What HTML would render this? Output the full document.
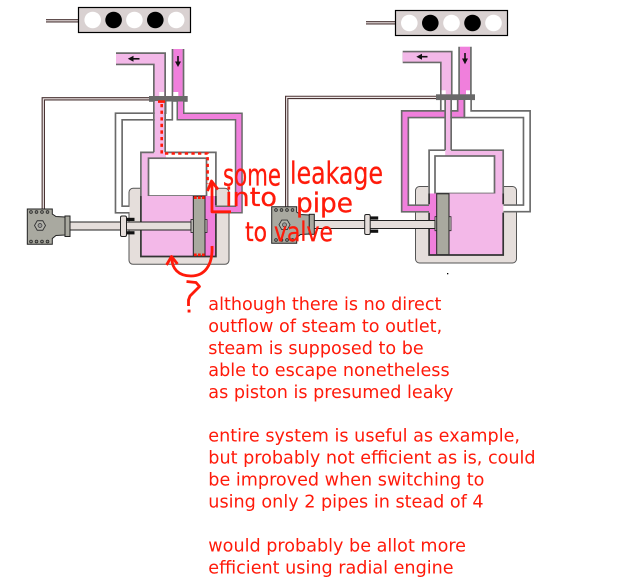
<!DOCTYPE html>
<html><head><meta charset="utf-8">
<style>
html,body{margin:0;padding:0;background:#fff;}
svg{display:block;}
</style></head>
<body>
<svg width="622" height="581" viewBox="0 0 622 581" xmlns="http://www.w3.org/2000/svg">
<rect width="622" height="581" fill="#fff"/>

<!-- ================= LEFT ENGINE ================= -->
<path d="M46,20.8 H78.5" stroke="#4a3434" stroke-width="3.4" fill="none"/>
<path d="M46,20.8 H78.5" stroke="#efe8e8" stroke-width="1.2" fill="none"/>
<rect x="78.5" y="7.5" width="112" height="25" fill="#d9d1d1" stroke="#000" stroke-width="1.2"/>
<circle cx="92.7" cy="20" r="8.3" fill="#fff"/>
<circle cx="113.6" cy="20" r="8.3" fill="#000"/>
<circle cx="134.4" cy="20" r="8.3" fill="#fff"/>
<circle cx="155.3" cy="20" r="8.3" fill="#000"/>
<circle cx="176.2" cy="20" r="8.3" fill="#fff"/>

<path d="M116,58.8 H159.5 V96" fill="none" stroke="#6a6a6a" stroke-width="13" stroke-linejoin="miter"/>
<path d="M116,58.8 H159.5 V96" fill="none" stroke="#f3b8e8" stroke-width="9.6" stroke-linejoin="miter"/>
<rect x="173.3" y="49" width="9.4" height="47" fill="#f07fdc"/>
<path d="M172.5,49 V96 M183.5,49 V96" stroke="#6a6a6a" stroke-width="1.7"/>
<rect x="159.3" y="92" width="4.7" height="4" fill="#fff"/>
<rect x="173.3" y="92" width="5" height="4" fill="#fff"/>
<path d="M133,58.8 H139.5" stroke="#111" stroke-width="1.6"/>
<polygon points="127.8,58.8 133.5,55.8 133.5,61.8" fill="#111"/>
<path d="M178,56 V62" stroke="#111" stroke-width="1.6"/>
<polygon points="175,61.5 181,61.5 178,67" fill="#111"/>

<path d="M150,98.8 H43.3 V209" stroke="#4a3434" stroke-width="3.4" fill="none"/>
<path d="M150,98.8 H43.3 V209" stroke="#efe8e8" stroke-width="1.2" fill="none"/>

<rect x="149" y="96" width="38.7" height="5.8" fill="#696969"/>

<rect x="129" y="188.3" width="100" height="76" rx="4" fill="#e5dedb" stroke="#555" stroke-width="1"/>

<path d="M169,101.5 V116.5 H118.8 V209.5 H129.5" fill="none" stroke="#6a6a6a" stroke-width="8.3" stroke-linejoin="miter"/>
<path d="M169,101.5 V116.5 H118.8 V209.5 H129.5" fill="none" stroke="#fff" stroke-width="5" stroke-linejoin="miter"/>
<path d="M180.5,101.5 V116.5 H238.8 V209.5 H215" fill="none" stroke="#6a6a6a" stroke-width="8" stroke-linejoin="miter"/>
<path d="M180.5,101.5 V116.5 H238.8 V209.5 H215" fill="none" stroke="#f07fdc" stroke-width="5" stroke-linejoin="miter"/>

<rect x="141" y="151.5" width="75" height="45" fill="#fff"/>
<polygon points="141.8,153 166,153 166,158.5 148.5,158.5 148.5,196 141.8,196" fill="#f3b8e8"/>
<rect x="154.7" y="101" width="9.6" height="52.5" fill="#f3b8e8"/>
<path d="M153.85,101 V152.35 M165.15,101 V152.35" stroke="#6a6a6a" stroke-width="1.7"/>
<path d="M140.9,196 V152.35 H153.85 M165.15,152.35 H215.9 V196" fill="none" stroke="#6a6a6a" stroke-width="1.7"/>
<rect x="148.5" y="158.2" width="58" height="37.8" fill="#fff" stroke="#6a6a6a" stroke-width="1.7"/>

<rect x="141.8" y="196" width="52" height="60" fill="#f3b8e8"/>
<rect x="204.5" y="196" width="10.8" height="60" fill="#f07fdc"/>
<rect x="191" y="219.5" width="16" height="13" fill="#e0dad6" stroke="#222" stroke-width="0.8"/>
<rect x="193.3" y="196.3" width="11.7" height="59.6" fill="#a9a99f" stroke="#222" stroke-width="1"/>
<path d="M140.9,196 V256.5 H215.9 V213.6 M215.9,205.4 V196" fill="none" stroke="#333" stroke-width="1.7"/>

<rect x="69.5" y="222" width="121.5" height="8" fill="#e5dedb" stroke="#222" stroke-width="1"/>
<rect x="120.5" y="216" width="6" height="20.5" rx="1.5" fill="#e5dedb" stroke="#222" stroke-width="1"/>
<rect x="126.5" y="217.8" width="8" height="3.2" fill="#111"/>
<rect x="126.5" y="231.2" width="8" height="3.2" fill="#111"/>

<polygon points="27.3,209 52.3,209 52.3,214 56,216.5 65,217 65,235 56,235.5 52.3,238.5 52.3,244.3 27.3,244.3" fill="#a9a9a0" stroke="#222" stroke-width="1"/>
<rect x="65" y="216" width="5" height="20.5" fill="#a9a9a0" stroke="#222" stroke-width="1"/>
<g fill="#8a8a84" stroke="#222" stroke-width="0.7">
<circle cx="31" cy="212" r="1.4"/><circle cx="36.5" cy="212" r="1.4"/><circle cx="42" cy="212" r="1.4"/><circle cx="47.5" cy="212" r="1.4"/>
<circle cx="31" cy="241.5" r="1.4"/><circle cx="36.5" cy="241.5" r="1.4"/><circle cx="42" cy="241.5" r="1.4"/><circle cx="47.5" cy="241.5" r="1.4"/>
</g>
<polygon points="45.5,225.5 42.75,230.26 37.25,230.26 34.5,225.5 37.25,220.74 42.75,220.74" fill="#b4b4ac" stroke="#333" stroke-width="0.9"/>
<circle cx="40" cy="225.5" r="2" fill="#999" stroke="#333" stroke-width="0.7"/>

<!-- ================= RIGHT ENGINE ================= -->
<path d="M366,22.8 H395.5" stroke="#4a3434" stroke-width="3.4" fill="none"/>
<path d="M366,22.8 H395.5" stroke="#efe8e8" stroke-width="1.2" fill="none"/>
<rect x="395.5" y="10.5" width="112" height="25" fill="#d9d1d1" stroke="#000" stroke-width="1.2"/>
<circle cx="409.3" cy="23" r="8.3" fill="#fff"/>
<circle cx="430.3" cy="23" r="8.3" fill="#000"/>
<circle cx="451.5" cy="23" r="8.3" fill="#fff"/>
<circle cx="472.5" cy="23" r="8.3" fill="#000"/>
<circle cx="493.5" cy="23" r="8.3" fill="#fff"/>

<path d="M402.7,57 H446.3 V94.5" fill="none" stroke="#6a6a6a" stroke-width="12.6" stroke-linejoin="miter"/>
<path d="M402.7,57 H446.3 V94.5" fill="none" stroke="#f3b8e8" stroke-width="9.3" stroke-linejoin="miter"/>
<rect x="460" y="46.7" width="10" height="47.8" fill="#f07fdc"/>
<path d="M459.1,46.7 V94.5 M470.9,46.7 V94.5" stroke="#6a6a6a" stroke-width="1.7"/>
<rect x="441.7" y="90.3" width="4" height="4" fill="#fff"/>
<rect x="466" y="90.3" width="4" height="4" fill="#fff"/>
<path d="M421.5,56.7 H427.5" stroke="#111" stroke-width="1.6"/>
<polygon points="416.3,56.7 422,53.7 422,59.7" fill="#111"/>
<path d="M465,53 V59" stroke="#111" stroke-width="1.6"/>
<polygon points="462,58.5 468,58.5 465,64.3" fill="#111"/>

<path d="M437,97.4 H286.7 V207" stroke="#4a3434" stroke-width="3.4" fill="none"/>
<path d="M437,97.4 H286.7 V207" stroke="#efe8e8" stroke-width="1.2" fill="none"/>

<rect x="436" y="94.3" width="39" height="5.8" fill="#696969"/>

<rect x="415.5" y="186.5" width="101" height="76.5" rx="4" fill="#e5dedb" stroke="#555" stroke-width="1"/>

<path d="M461,100 V114.2 H405 V208.5 H429" fill="none" stroke="#6a6a6a" stroke-width="8.3" stroke-linejoin="miter"/>
<path d="M461,100 V114.2 H405 V208.5 H429" fill="none" stroke="#f07fdc" stroke-width="5" stroke-linejoin="miter"/>
<path d="M467.8,100 V114.2 H526.8 V208.4 H503.5" fill="none" stroke="#6a6a6a" stroke-width="8.3" stroke-linejoin="miter"/>
<path d="M467.8,100 V114.2 H526.8 V208.4 H503.5" fill="none" stroke="#fff" stroke-width="5" stroke-linejoin="miter"/>
<path d="M440.8,100 V110" stroke="#6a6a6a" stroke-width="1.7"/>

<rect x="428.3" y="150" width="75" height="44" fill="#fff"/>
<polygon points="445.2,151 502.4,151 502.4,194 494.5,194 494.5,156 445.2,156" fill="#f3b8e8"/>
<rect x="446" y="100" width="4.3" height="51.5" fill="#f3b8e8"/>
<path d="M445.15,100 V150.2 M451.15,100 V150.2" stroke="#6a6a6a" stroke-width="1.7"/>
<path d="M429.1,193.5 V150.2 H445.15 M451.15,150.2 H503.2 V193.5" fill="none" stroke="#6a6a6a" stroke-width="1.7"/>
<rect x="435" y="156" width="59.5" height="37.5" fill="#fff" stroke="#6a6a6a" stroke-width="1.7"/>

<rect x="429" y="193.5" width="9" height="61" fill="#f07fdc"/>
<rect x="448.5" y="193.5" width="54.5" height="61" fill="#f3b8e8"/>
<rect x="435" y="216.7" width="16" height="14" fill="#e0dad6" stroke="#222" stroke-width="0.8"/>
<rect x="436.7" y="193.8" width="12.3" height="61" fill="#a9a99f" stroke="#222" stroke-width="1"/>
<path d="M429.1,193.5 V204.3 M429.1,212.7 V255 H503.2 V212.6 M503.2,204.2 V193.5" fill="none" stroke="#333" stroke-width="1.7"/>

<rect x="314" y="220.5" width="121" height="8" fill="#e5dedb" stroke="#222" stroke-width="1"/>
<rect x="364.7" y="214.5" width="5.5" height="20" rx="1.5" fill="#e5dedb" stroke="#222" stroke-width="1"/>
<rect x="370.2" y="216.4" width="8" height="3.2" fill="#111"/>
<rect x="370.2" y="229.6" width="8" height="3.2" fill="#111"/>

<polygon points="271.7,206.7 296.7,206.7 296.7,212 300.5,214.5 309.3,215 309.3,234 300.5,234.5 296.7,237.5 296.7,243.3 271.7,243.3" fill="#a9a9a0" stroke="#222" stroke-width="1"/>
<rect x="309.3" y="214.3" width="5" height="20" fill="#a9a9a0" stroke="#222" stroke-width="1"/>
<g fill="#8a8a84" stroke="#222" stroke-width="0.7">
<circle cx="276" cy="210" r="1.4"/><circle cx="281.5" cy="210" r="1.4"/><circle cx="287" cy="210" r="1.4"/><circle cx="292.5" cy="210" r="1.4"/>
<circle cx="276" cy="240" r="1.4"/><circle cx="281.5" cy="240" r="1.4"/><circle cx="287" cy="240" r="1.4"/><circle cx="292.5" cy="240" r="1.4"/>
</g>
<polygon points="290,224.8 287.25,229.56 281.75,229.56 279,224.8 281.75,220.04 287.25,220.04" fill="#b4b4ac" stroke="#333" stroke-width="0.9"/>
<circle cx="284.5" cy="224.8" r="2" fill="#999" stroke="#333" stroke-width="0.7"/>

<rect x="447" y="273" width="1.3" height="1.3" fill="#000"/>

<!-- ================= RED ANNOTATIONS ================= -->
<g stroke="#ff1a0a" fill="none" stroke-linecap="butt" stroke-linejoin="round">
<rect x="158" y="100.3" width="7" height="2.6" fill="#ff1a0a" stroke="none"/>
<path d="M161.7,104 V153.5 H207.6 V184" stroke-width="2.6" stroke-dasharray="3.3 3.3"/>
<path d="M194,197.6 H205" stroke-width="2.7" stroke-dasharray="2.7 1.3"/>
<path d="M194,254.8 H205" stroke-width="2.7" stroke-dasharray="2.7 1.3"/>
<path d="M207.5,191 L211.5,181 L218,189.5" stroke-width="2.8"/>
<path d="M212,183 V211.8 H231" stroke-width="2.8"/>
<path d="M212,246 C213,266 204,276 191,276 C178,276 172,268 172,259" stroke-width="2.8"/>
<path d="M166.5,265 L171.5,256.5 L177.5,264" stroke-width="2.8"/>
<path d="M186.5,281.5 L196,282.5 L199.5,286.5 L190,296 L188.5,300 L188.5,306" stroke-width="2.8"/>
<rect x="187.6" y="309.6" width="2.9" height="2.9" fill="#ff1a0a" stroke="none"/>
</g>

<g font-family="'DejaVu Sans', 'Liberation Sans', sans-serif" fill="#ff1a0a" stroke="#ff1a0a" stroke-width="0.3">
<text x="223" y="185.5" font-size="30" textLength="58" lengthAdjust="spacingAndGlyphs">some</text>
<text x="290" y="183.5" font-size="30" textLength="93" lengthAdjust="spacingAndGlyphs">leakage</text>
<text x="225" y="206" font-size="26" textLength="52" lengthAdjust="spacingAndGlyphs">into</text>
<text x="296" y="212" font-size="27" textLength="57" lengthAdjust="spacingAndGlyphs">pipe</text>
<text x="245" y="241" font-size="27" textLength="88" lengthAdjust="spacingAndGlyphs">to valve</text>
</g>

<g font-family="'DejaVu Sans', 'Liberation Sans', sans-serif" font-size="17.6" fill="#ff1a0a">
<text x="208.3" y="310">although there is no direct</text>
<text x="208.3" y="331.9">outflow of steam to outlet,</text>
<text x="208.3" y="353.9">steam is supposed to be</text>
<text x="208.3" y="375.8">able to escape nonetheless</text>
<text x="208.3" y="397.8">as piston is presumed leaky</text>
<text x="208.3" y="441.6">entire system is useful as example,</text>
<text x="208.3" y="463.6">but probably not efficient as is, could</text>
<text x="208.3" y="485.5">be improved when switching to</text>
<text x="208.3" y="507.5">using only 2 pipes in stead of 4</text>
<text x="208.3" y="551.3">would probably be allot more</text>
<text x="208.3" y="573.3">efficient using radial engine</text>
</g>
</svg>
</body></html>
